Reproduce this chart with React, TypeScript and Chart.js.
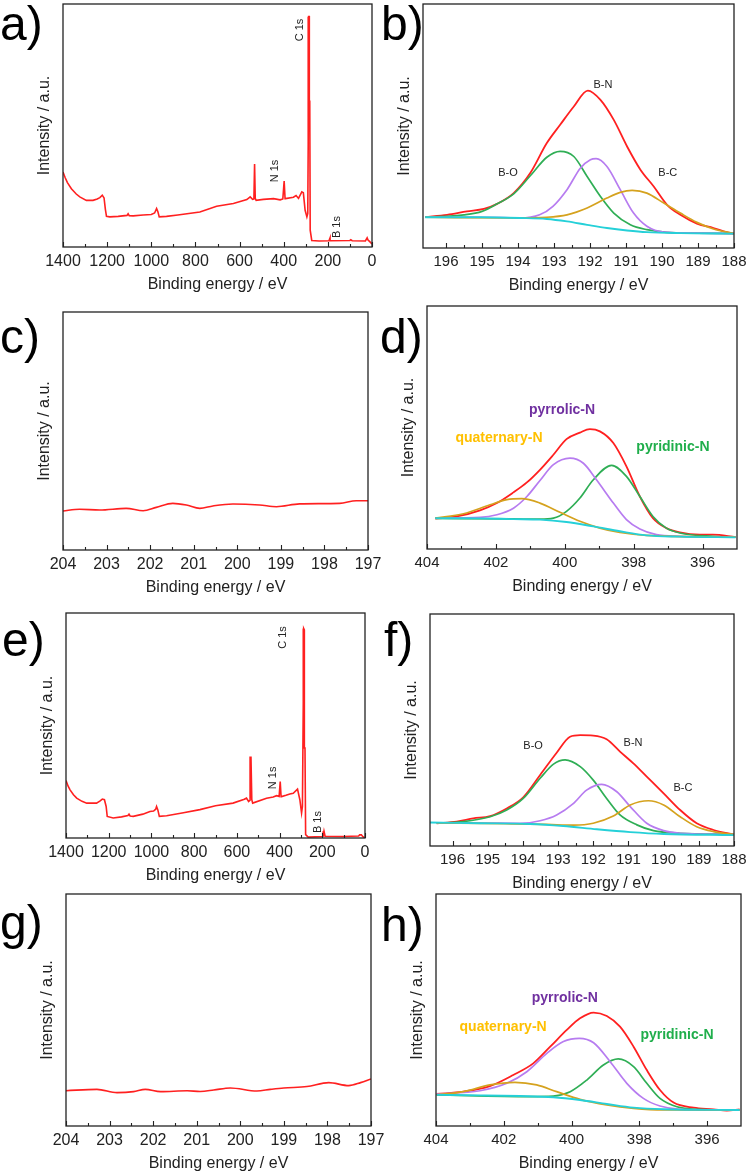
import React, { useEffect, useRef } from 'react';
import { Chart, registerables } from 'chart.js';

Chart.register(...registerables);

type Pt = [number, number];

// ---------- tick labels ----------
const SURVEY_TICKS = [0, 200, 400, 600, 800, 1000, 1200, 1400];
const B1S_TICKS = [188, 189, 190, 191, 192, 193, 194, 195, 196];
const C_TICKS = [197, 198, 199, 200, 201, 202, 203, 204];
const N1S_TICKS = [396, 398, 400, 402, 404];

const X_TITLE = 'Binding energy / eV';
const Y_TITLE = 'Intensity / a.u.';

// ---------- a) survey ----------
const A_SURVEY: Pt[] = [
  [1400, 30.9], [1390, 28.5], [1380, 26.5], [1362, 24], [1340, 21.8], [1324, 20.6], [1294, 19.2],
  [1264, 19.2], [1245, 19.8], [1233, 20.3], [1222, 21.3], [1214, 20.2], [1208, 15.5], [1203, 12.6],
  [1188, 12.4], [1150, 12.6], [1110, 13.0], [1105, 13.7], [1100, 12.9], [1082, 12.8], [1037, 13.2],
  [1000, 13.4], [985, 14.0], [976, 15.8], [970, 14.5], [964, 12.4], [931, 12.6], [880, 13.2],
  [780, 14.4], [704, 16.8], [628, 17.9], [567, 19.5], [552, 20.6], [541, 19.6], [535, 19.8],
  [532, 34.1], [529, 20.0], [525, 19.2], [492, 19.6], [446, 19.9], [416, 19.4], [404, 19.8],
  [398, 27.1], [394, 20.2], [392, 19.9], [356, 20.5], [344, 21.2], [333, 20.0], [318, 22.7],
  [311, 22.3], [303, 15.1], [295, 12.4], [291, 13.8], [289, 42.6], [287, 94.8], [284, 94.8],
  [282, 60], [280, 6.9], [273, 2.7], [240, 2.5], [195, 2.6], [190, 3.8], [186, 2.6], [100, 2.7],
  [96, 3.0], [90, 2.6], [30, 2.5], [22, 3.8], [18, 2.9], [10, 2.2], [0, 1.2],
];

// ---------- b) B 1s ----------
const B_ENVELOPE: Pt[] = [
  [196.58, 12.7], [195.97, 13.6], [195.42, 15.0], [194.95, 16.0], [194.58, 18.1], [194.12, 22.5],
  [193.66, 30.7], [193.2, 43.0], [192.83, 50.5], [192.45, 58.0], [192.06, 64.5], [191.71, 60.7],
  [191.34, 52.5], [190.97, 41.6], [190.6, 32.1], [190.23, 25.2], [189.86, 17.7], [189.49, 13.6],
  [189.03, 10.0], [188.57, 8.2], [188.2, 6.5], [188.01, 5.9],
];
const B_BO: Pt[] = [
  [196.58, 12.6], [195.5, 13.6], [195.0, 15.0], [194.58, 18.1], [194.12, 22.2], [193.66, 29.6],
  [193.2, 37.2], [192.83, 39.6], [192.45, 37.5], [192.08, 29.3], [191.71, 21.1], [191.34, 14.3],
  [190.88, 9.5], [190.42, 7.5], [189.86, 6.4], [189.03, 6.1], [188.01, 5.9],
];
const B_BN: Pt[] = [
  [196.58, 12.6], [195.0, 12.6], [194.4, 12.5], [193.95, 12.3], [193.4, 13.6], [193.03, 17.1],
  [192.64, 23.9], [192.27, 32.7], [191.99, 36.2], [191.83, 36.6], [191.53, 33.4], [191.16, 23.9],
  [190.79, 14.3], [190.42, 8.9], [189.95, 6.5], [189.03, 6.1], [188.01, 5.9],
];
const B_BC: Pt[] = [
  [196.58, 12.6], [194.12, 12.3], [193.2, 12.6], [192.64, 13.6], [192.08, 16.4], [191.53, 20.5],
  [191.16, 22.8], [190.83, 23.6], [190.42, 22.5], [189.95, 18.4], [189.49, 14.3], [189.03, 10.5],
  [188.57, 7.8], [188.01, 5.9],
];
const B_BASE: Pt[] = [
  [196.58, 12.6], [195.05, 12.6], [193.94, 12.3], [193.2, 11.9], [192.64, 10.9], [192.08, 9.5],
  [191.53, 8.2], [190.97, 7.2], [190.42, 6.5], [189.49, 6.1], [188.01, 5.9],
];

// ---------- c) C 1s region ----------
const C_SCAN: Pt[] = [
  [204, 16.4], [203.62, 17.1], [203.16, 16.8], [202.55, 17.5], [202.16, 16.5], [201.86, 17.9],
  [201.48, 19.6], [201.17, 18.9], [200.86, 17.5], [200.56, 18.5], [200.1, 19.3], [199.49, 18.9],
  [199.1, 18.2], [198.57, 19.4], [197.65, 19.6], [197.27, 20.7], [197.0, 20.7],
];

// ---------- d) N 1s ----------
const D_ENVELOPE: Pt[] = [
  [403.76, 12.5], [403.13, 13.4], [402.46, 15.9], [401.97, 18.9], [401.49, 23.3], [401.1, 27.4],
  [400.72, 32.6], [400.33, 38.8], [399.95, 45.2], [399.56, 47.9], [399.27, 49.3], [398.98, 48.4],
  [398.59, 43.6], [398.21, 34.0], [397.82, 21.6], [397.44, 12.7], [397.05, 8.6], [396.66, 6.8],
  [396.08, 5.9], [395.7, 5.9], [395.04, 4.9],
];
const D_PYRROLIC: Pt[] = [
  [403.76, 12.7], [402.46, 13.0], [401.97, 14.1], [401.49, 16.8], [401.1, 21.6], [400.72, 28.2],
  [400.33, 34.7], [399.85, 37.4], [399.46, 35.3], [399.08, 28.5], [398.59, 18.9], [398.21, 12.1],
  [397.82, 8.2], [397.34, 5.9], [396.66, 5.2], [395.04, 4.9],
];
const D_PYRIDINIC: Pt[] = [
  [403.76, 12.6], [401.5, 12.4], [400.72, 12.3], [400.33, 12.7], [399.95, 15.5], [399.56, 21.0],
  [399.17, 28.5], [398.64, 34.4], [398.21, 29.9], [397.82, 21.6], [397.44, 13.4], [397.05, 8.6],
  [396.66, 6.6], [395.7, 5.2], [395.04, 4.9],
];
const D_QUATERNARY: Pt[] = [
  [403.76, 12.7], [402.94, 14.5], [402.17, 18.2], [401.68, 20.3], [401.25, 20.7], [400.72, 18.9],
  [400.14, 15.1], [399.56, 11.4], [398.98, 8.6], [398.4, 6.8], [397.63, 5.6], [395.04, 4.9],
];
const D_BASE: Pt[] = [
  [403.76, 12.7], [402.46, 12.6], [401.49, 12.3], [400.72, 12.1], [399.95, 11.1], [399.17, 9.3],
  [398.4, 7.3], [397.63, 5.6], [396.66, 5.1], [395.04, 4.8],
];

// ---------- e) survey ----------
const E_SURVEY: Pt[] = [
  [1400, 25.6], [1390, 23], [1381, 21.4], [1365, 19.2], [1350, 17.7], [1325, 16.3], [1303, 15.5],
  [1257, 15.5], [1240, 16.5], [1230, 17.3], [1220, 17.0], [1212, 14], [1207, 9.6], [1179, 8.9],
  [1140, 9.4], [1110, 10.0], [1105, 10.6], [1100, 9.8], [1085, 9.6], [1040, 10.6], [1007, 11.8],
  [990, 12.0], [980, 12.8], [976, 14.0], [970, 12.5], [963, 9.6], [929, 9.9], [850, 11.2],
  [773, 12.6], [700, 14.3], [618, 15.5], [565, 17.2], [555, 17.7], [545, 16.2], [538, 16.8],
  [534, 36.2], [530, 17.0], [526, 15.5], [461, 17.7], [430, 18.2], [414, 18.8], [402, 18.5],
  [397, 25.1], [393, 18.6], [391, 18.4], [370, 19.0], [352, 19.6], [336, 19.9], [316, 21.7],
  [305, 17], [297, 11.1], [293, 14], [289, 60], [287, 93.1], [284, 92.5], [281, 40], [278, 1.5],
  [266, 0.4], [200, 0.7], [196, 0.8], [192, 3.0], [187, 0.8], [100, 0.7], [30, 0.9], [25, 1.4],
  [17, 1.4], [10, 0.6], [2, 0.1],
];

// ---------- f) B 1s ----------
const F_ENVELOPE: Pt[] = [
  [196.45, 9.8], [195.88, 10.5], [195.41, 11.9], [194.93, 12.9], [194.46, 16.2], [193.99, 21.0],
  [193.51, 30.6], [193.04, 40.2], [192.66, 47.1], [192.37, 47.8], [192.0, 47.6], [191.62, 46.0],
  [191.24, 40.7], [190.86, 35.6], [190.48, 29.9], [190.0, 22.7], [189.53, 15.5], [189.06, 9.8],
  [188.58, 6.9], [188.01, 5.0],
];
const F_BO: Pt[] = [
  [196.45, 9.8], [195.69, 10.5], [194.93, 12.6], [194.46, 15.5], [193.99, 20.5], [193.51, 29.2],
  [193.13, 35.3], [192.8, 37.1], [192.37, 34.2], [192.0, 28.4], [191.62, 20.5], [191.24, 13.4],
  [190.76, 9.1], [190.29, 6.6], [189.53, 5.5], [188.01, 5.0],
];
const F_BN: Pt[] = [
  [196.45, 10.0], [195.0, 9.9], [194.08, 9.8], [193.51, 10.9], [193.04, 13.4], [192.56, 18.4],
  [192.19, 24.1], [191.76, 26.6], [191.33, 23.4], [190.95, 17.0], [190.48, 9.8], [190.0, 6.6],
  [189.53, 5.5], [188.01, 5.0],
];
const F_BC: Pt[] = [
  [196.45, 10.0], [194.5, 9.6], [193.32, 9.3], [192.56, 9.0], [192.0, 9.8], [191.43, 12.9],
  [190.95, 17.7], [190.43, 19.5], [190.0, 17.7], [189.53, 12.6], [189.06, 8.3], [188.58, 6.2],
  [188.01, 5.0],
];
const F_BASE: Pt[] = [
  [196.64, 10.1], [195.22, 9.8], [193.8, 9.5], [192.85, 8.6], [191.9, 7.2], [190.95, 6.0],
  [190.0, 5.2], [188.01, 4.7],
];

// ---------- g) C 1s region ----------
const G_SCAN: Pt[] = [
  [204, 15.2], [203.29, 15.8], [202.83, 14.4], [202.45, 14.8], [202.18, 15.8], [201.83, 14.8],
  [201.22, 15.2], [200.92, 14.9], [200.61, 15.5], [200.23, 16.4], [199.62, 15.1], [199.31, 15.8],
  [199.0, 16.4], [198.47, 17.0], [197.97, 18.7], [197.51, 17.4], [197.24, 18.7], [197.0, 20.3],
];

// ---------- h) N 1s ----------
const H_ENVELOPE: Pt[] = [
  [403.98, 13.8], [403.19, 14.8], [402.41, 17.2], [401.72, 22.0], [401.13, 27.0], [400.63, 34.2],
  [400.14, 41.4], [399.75, 46.4], [399.35, 48.9], [398.96, 47.4], [398.57, 42.8], [398.17, 34.2],
  [397.78, 24.1], [397.39, 15.5], [396.99, 10.1], [396.4, 7.9], [395.81, 7.2], [395.42, 6.6],
  [395.04, 7.2],
];
const H_PYRROLIC: Pt[] = [
  [403.98, 13.8], [402.7, 15.2], [401.91, 18.4], [401.32, 23.4], [400.73, 31.3], [400.24, 36.4],
  [399.77, 37.8], [399.35, 35.9], [398.86, 27.7], [398.37, 18.4], [397.88, 11.9], [397.39, 8.6],
  [396.8, 7.2], [395.04, 6.9],
];
const H_PYRIDINIC: Pt[] = [
  [403.98, 13.4], [401.22, 12.7], [400.54, 12.9], [400.04, 14.8], [399.55, 19.8], [399.06, 26.3],
  [398.62, 28.9], [398.17, 25.6], [397.78, 18.4], [397.39, 11.9], [396.89, 8.3], [396.3, 7.2],
  [395.04, 6.9],
];
const H_QUATERNARY: Pt[] = [
  [403.98, 13.4], [403.19, 14.8], [402.41, 17.7], [401.67, 18.8], [401.03, 17.7], [400.44, 14.8],
  [399.75, 11.5], [398.96, 9.1], [398.17, 7.6], [397.29, 6.9], [395.04, 6.9],
];
const H_BASE: Pt[] = [
  [403.98, 13.4], [402.7, 13.2], [401.52, 12.9], [400.54, 12.4], [399.75, 11.2], [398.96, 9.5],
  [398.17, 7.9], [397.29, 7.2], [395.04, 6.9],
];

// ---------- styling ----------
const FONT = '"Liberation Sans", Arial, Helvetica, sans-serif';
const RED = '#ff2020';
const GREEN = '#2fae55';
const PURPLE = '#b77cf0';
const GOLD = '#d5a21e';
const CYAN = '#25d0d8';
const TXT = '#222222';

type Series = { data: Pt[]; color: string; width: number; smooth: boolean };
type Label = { text: string; x: number; y: number; color: string; font: string; rotate?: boolean };
type Panel = {
  letter: string;
  colLeft: number;
  top: number;
  plot: { l: number; t: number; r: number; b: number };
  letterDx: number;
  letterBase: number;
  xMin: number;
  xMax: number;
  ticks: number[];
  tickSize: number;
  series: Series[];
  labels: Label[];
};

const SMALL = `11px ${FONT}`;
const BOLD = `bold 14px ${FONT}`;

const fitted = (env: Pt[], c1: Pt[], c1c: string, c2: Pt[], c2c: string, c3: Pt[], c3c: string, base: Pt[]): Series[] => [
  { data: base, color: CYAN, width: 1.9, smooth: true },
  { data: c3, color: c3c, width: 1.7, smooth: true },
  { data: c2, color: c2c, width: 1.7, smooth: true },
  { data: c1, color: c1c, width: 1.7, smooth: true },
  { data: env, color: RED, width: 1.8, smooth: true },
];

const PANELS: Panel[] = [
  {
    letter: 'a', colLeft: 0, top: 0, plot: { l: 63, t: 4, r: 372, b: 247 }, letterDx: 0, letterBase: 40,
    xMin: 0, xMax: 1400, ticks: SURVEY_TICKS, tickSize: 16,
    series: [{ data: A_SURVEY, color: RED, width: 1.6, smooth: false }],
    labels: [
      { text: 'C 1s', x: 326, y: 89.3, color: TXT, font: SMALL, rotate: true },
      { text: 'N 1s', x: 439, y: 31.3, color: TXT, font: SMALL, rotate: true },
      { text: 'B 1s', x: 158, y: 8.2, color: TXT, font: SMALL, rotate: true },
    ],
  },
  {
    letter: 'b', colLeft: 380, top: 0, plot: { l: 423, t: 4, r: 734, b: 248 }, letterDx: 1, letterBase: 40,
    xMin: 188, xMax: 196.64, ticks: B1S_TICKS, tickSize: 15,
    series: fitted(B_ENVELOPE, B_BO, GREEN, B_BN, PURPLE, B_BC, GOLD, B_BASE),
    labels: [
      { text: 'B-N', x: 191.64, y: 66.8, color: TXT, font: SMALL },
      { text: 'B-O', x: 194.28, y: 30.7, color: TXT, font: SMALL },
      { text: 'B-C', x: 189.84, y: 30.7, color: TXT, font: SMALL },
    ],
  },
  {
    letter: 'c', colLeft: 0, top: 295, plot: { l: 63, t: 312, r: 368, b: 550 }, letterDx: 0, letterBase: 353,
    xMin: 197, xMax: 204, ticks: C_TICKS, tickSize: 16,
    series: [{ data: C_SCAN, color: RED, width: 1.6, smooth: true }],
    labels: [],
  },
  {
    letter: 'd', colLeft: 380, top: 295, plot: { l: 427, t: 306, r: 737, b: 549 }, letterDx: 0, letterBase: 353,
    xMin: 395, xMax: 404, ticks: N1S_TICKS, tickSize: 15,
    series: fitted(D_ENVELOPE, D_PYRIDINIC, GREEN, D_PYRROLIC, PURPLE, D_QUATERNARY, GOLD, D_BASE),
    labels: [
      { text: 'pyrrolic-N', x: 400.08, y: 57.2, color: '#7030a0', font: BOLD },
      { text: 'quaternary-N', x: 401.91, y: 45.7, color: '#ffc000', font: BOLD },
      { text: 'pyridinic-N', x: 396.86, y: 42.0, color: '#1fae4b', font: BOLD },
    ],
  },
  {
    letter: 'e', colLeft: 0, top: 590, plot: { l: 66, t: 613, r: 365, b: 838 }, letterDx: 2, letterBase: 656,
    xMin: 0, xMax: 1400, ticks: SURVEY_TICKS, tickSize: 16,
    series: [{ data: E_SURVEY, color: RED, width: 1.6, smooth: false }],
    labels: [
      { text: 'C 1s', x: 384, y: 89.1, color: TXT, font: SMALL, rotate: true },
      { text: 'N 1s', x: 431, y: 26.7, color: TXT, font: SMALL, rotate: true },
      { text: 'B 1s', x: 220, y: 7.1, color: TXT, font: SMALL, rotate: true },
    ],
  },
  {
    letter: 'f', colLeft: 380, top: 590, plot: { l: 430, t: 614, r: 734, b: 846 }, letterDx: 4, letterBase: 656,
    xMin: 188, xMax: 196.64, ticks: B1S_TICKS, tickSize: 15,
    series: fitted(F_ENVELOPE, F_BO, GREEN, F_BN, PURPLE, F_BC, GOLD, F_BASE),
    labels: [
      { text: 'B-O', x: 193.71, y: 43.1, color: TXT, font: SMALL },
      { text: 'B-N', x: 190.87, y: 44.4, color: TXT, font: SMALL },
      { text: 'B-C', x: 189.45, y: 25.0, color: TXT, font: SMALL },
    ],
  },
  {
    letter: 'g', colLeft: 0, top: 885, plot: { l: 66, t: 894, r: 371, b: 1126 }, letterDx: 0, letterBase: 939,
    xMin: 197, xMax: 204, ticks: C_TICKS, tickSize: 16,
    series: [{ data: G_SCAN, color: RED, width: 1.6, smooth: true }],
    labels: [],
  },
  {
    letter: 'h', colLeft: 380, top: 885, plot: { l: 436, t: 894, r: 741, b: 1126 }, letterDx: 1, letterBase: 941,
    xMin: 395, xMax: 404, ticks: N1S_TICKS, tickSize: 15,
    series: fitted(H_ENVELOPE, H_PYRIDINIC, GREEN, H_PYRROLIC, PURPLE, H_QUATERNARY, GOLD, H_BASE),
    labels: [
      { text: 'pyrrolic-N', x: 400.2, y: 55.2, color: '#7030a0', font: BOLD },
      { text: 'quaternary-N', x: 402.02, y: 42.7, color: '#ffc000', font: BOLD },
      { text: 'pyridinic-N', x: 396.89, y: 39.2, color: '#1fae4b', font: BOLD },
    ],
  },
];

const X_AXIS_H = 48;

function canvasBox(p: Panel) {
  const rightPad = p.colLeft === 0 ? 20 : 749 - p.plot.r;
  const width = p.plot.r + rightPad - p.colLeft;
  const height = p.plot.b + X_AXIS_H - p.top;
  return { rightPad, width, height };
}

function decorPlugin(p: Panel) {
  return {
    id: 'decor_' + p.letter,
    afterDraw(chart: any) {
      const { ctx, chartArea: ca, scales } = chart;
      const x = scales.x;
      const y = scales.y;
      ctx.save();
      // frame
      ctx.strokeStyle = TXT;
      ctx.lineWidth = 1.3;
      ctx.strokeRect(ca.left, ca.top, ca.right - ca.left, ca.bottom - ca.top);
      // inward ticks, major + minor
      ctx.lineWidth = 1.1;
      ctx.beginPath();
      const tk = p.ticks;
      tk.forEach((v) => {
        const px = Math.round(x.getPixelForValue(v)) + 0.5;
        ctx.moveTo(px, ca.bottom);
        ctx.lineTo(px, ca.bottom - 5);
      });
      for (let i = 0; i < tk.length - 1; i++) {
        const px = Math.round(x.getPixelForValue((tk[i] + tk[i + 1]) / 2)) + 0.5;
        ctx.moveTo(px, ca.bottom);
        ctx.lineTo(px, ca.bottom - 3);
      }
      ctx.stroke();
      // annotations
      p.labels.forEach((l) => {
        ctx.save();
        ctx.font = l.font;
        ctx.fillStyle = l.color;
        ctx.textAlign = 'center';
        ctx.textBaseline = 'middle';
        ctx.translate(x.getPixelForValue(l.x), y.getPixelForValue(l.y));
        if (l.rotate) ctx.rotate(-Math.PI / 2);
        ctx.fillText(l.text, 0, 0);
        ctx.restore();
      });
      // panel letter
      ctx.font = `48px ${FONT}`;
      ctx.fillStyle = '#000';
      ctx.textAlign = 'left';
      ctx.textBaseline = 'alphabetic';
      ctx.fillText(p.letter + ')', p.letterDx, p.letterBase - p.top);
      ctx.restore();
    },
  };
}

function makeConfig(p: Panel): any {
  const { rightPad } = canvasBox(p);
  const yW = p.plot.l - p.colLeft;
  return {
    type: 'line',
    data: {
      datasets: p.series.map((s, i) => ({
        data: s.data.map(([xv, yv]) => ({ x: xv, y: yv })).sort((a, b) => a.x - b.x),
        borderColor: s.color,
        borderWidth: s.width,
        pointRadius: 0,
        fill: false,
        tension: 0,
        cubicInterpolationMode: s.smooth ? 'monotone' : 'default',
        order: i,
      })),
    },
    options: {
      responsive: false,
      animation: false,
      devicePixelRatio: 1,
      events: [],
      layout: { padding: { top: p.plot.t - p.top, right: rightPad, left: 0, bottom: 0 } },
      plugins: { legend: { display: false }, tooltip: { enabled: false }, title: { display: false } },
      scales: {
        x: {
          type: 'linear',
          reverse: true,
          min: p.xMin,
          max: p.xMax,
          grid: { display: false, drawTicks: false, tickLength: 0 },
          border: { display: false },
          ticks: {
            font: { family: FONT, size: p.tickSize },
            color: TXT,
            padding: 5,
            maxRotation: 0,
            autoSkip: false,
            callback: (v: number) => String(v),
          },
          afterBuildTicks: (s: any) => {
            s.ticks = p.ticks.map((v) => ({ value: v }));
          },
          afterFit: (s: any) => {
            s.height = X_AXIS_H;
          },
          title: {
            display: true,
            text: X_TITLE,
            font: { family: FONT, size: 16 },
            color: TXT,
            padding: { top: 0, bottom: 0.9 },
          },
        },
        y: {
          type: 'linear',
          min: 0,
          max: 100,
          grid: { display: false, drawTicks: false, tickLength: 0 },
          border: { display: false },
          ticks: { display: false },
          afterFit: (s: any) => {
            s.width = yW;
          },
          title: {
            display: true,
            text: Y_TITLE,
            font: { family: FONT, size: 16 },
            color: TXT,
            padding: { top: yW - 18.5 - 9.6, bottom: 0 },
          },
        },
      },
    },
    plugins: [decorPlugin(p)],
  };
}

function PanelChart({ p }: { p: Panel }) {
  const ref = useRef<HTMLCanvasElement | null>(null);
  const { width, height } = canvasBox(p);
  useEffect(() => {
    if (!ref.current) return;
    const chart = new Chart(ref.current, makeConfig(p));
    return () => chart.destroy();
  }, [p]);
  return (
    <canvas
      ref={ref}
      width={width}
      height={height}
      style={{ position: 'absolute', left: p.colLeft, top: p.top, width, height, display: 'block' }}
    />
  );
}

export default function App() {
  return (
    <div
      style={{
        position: 'absolute',
        left: 0,
        top: 0,
        width: 749,
        height: 1174,
        overflow: 'hidden',
        background: '#ffffff',
      }}
    >
      {PANELS.map((p) => (
        <PanelChart key={p.letter} p={p} />
      ))}
    </div>
  );
}
